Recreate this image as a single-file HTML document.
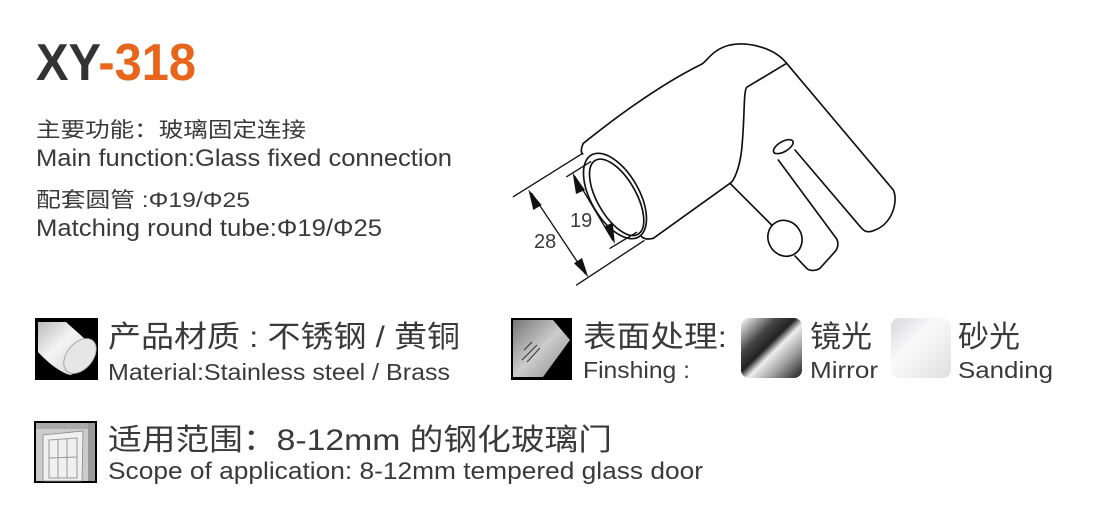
<!DOCTYPE html>
<html><head><meta charset="utf-8"><style>
html,body{margin:0;padding:0;background:#fff;}
svg{display:block;}
text{font-family:"Liberation Sans","Noto Sans CJK SC",sans-serif;fill:#3a3a3a;}
</style></head><body>
<svg width="1093" height="513" viewBox="0 0 1093 513" xmlns="http://www.w3.org/2000/svg">
<defs>
<linearGradient id="cyl" x1="0" y1="0" x2="1" y2="1"><stop offset="0" stop-color="#bbb"/><stop offset=".4" stop-color="#f4f4f4"/><stop offset="1" stop-color="#ccc"/></linearGradient>
<linearGradient id="mir" x1="0" y1="0" x2="1" y2="1"><stop offset="0" stop-color="#fff"/><stop offset=".3" stop-color="#444"/><stop offset=".45" stop-color="#222"/><stop offset=".55" stop-color="#eee"/><stop offset=".75" stop-color="#999"/><stop offset="1" stop-color="#1a1a1a"/></linearGradient>
<linearGradient id="sand" x1="0" y1="0" x2="1" y2="1"><stop offset="0" stop-color="#d8d8de"/><stop offset=".4" stop-color="#fafafa"/><stop offset="1" stop-color="#dedede"/></linearGradient>
<linearGradient id="glass" x1="0" y1="0" x2="1" y2="1"><stop offset="0" stop-color="#777"/><stop offset=".5" stop-color="#ccc"/><stop offset="1" stop-color="#888"/></linearGradient>
</defs>

<!-- Title -->
<text x="36" y="80" font-size="52" font-weight="bold" textLength="160" lengthAdjust="spacingAndGlyphs"><tspan fill="#333">XY</tspan><tspan fill="#e8661c" style="fill:#e8661c">-318</tspan></text>

<text x="36" y="137" font-size="21" textLength="270" lengthAdjust="spacingAndGlyphs">主要功能：玻璃固定连接</text>
<text x="36" y="166" font-size="24" textLength="416" lengthAdjust="spacingAndGlyphs">Main function:Glass fixed connection</text>
<text x="36" y="207" font-size="21" textLength="214" lengthAdjust="spacingAndGlyphs">配套圆管 :Φ19/Φ25</text>
<text x="36" y="236" font-size="24" textLength="346" lengthAdjust="spacingAndGlyphs">Matching round tube:Φ19/Φ25</text>

<!-- Drawing -->
<g transform="translate(500,30) scale(0.3333)" fill="none" stroke="#111" stroke-width="5" stroke-linejoin="round" stroke-linecap="round">
  <path d="M250,340 C300,300 450,180 600,105 C620,100 630,60 690,45 C740,35 820,50 860,100 L1180,480 C1195,510 1180,590 1110,605 C1095,606 1090,600 1085,595 L885,360"/>
  <path d="M860,100 L740,172 C730,185 735,260 725,360 C718,420 700,455 690,460 L460,625"/>
  <path d="M690,460 L815,585"/>
  <ellipse cx="855" cy="625" rx="50" ry="55" transform="rotate(-30 855 625)"/>
  <path d="M885,678 L920,715 C930,725 950,722 960,715 L1005,665 C1018,650 1015,630 1005,620 L835,390"/>
  <ellipse cx="850" cy="350" rx="33" ry="15" transform="rotate(-30 850 350)"/>
  <path d="M250,340 C240,360 245,370 248,372"/>
  <ellipse cx="345" cy="498" rx="72" ry="142" transform="rotate(-30 345 498)"/>
  <ellipse cx="350" cy="502" rx="58" ry="128" transform="rotate(-30 350 502)"/>
  <path d="M460,625 C440,630 430,625 425,620"/>
  <g stroke-width="4">
    <path d="M40,500 L248,370"/>
    <path d="M230,765 L432,632"/>
    <path d="M95,490 L255,730"/>
    <path d="M200,440 L272,395"/>
    <path d="M330,655 L410,607"/>
    <path d="M225,440 L338,630"/>
  </g>
  <g fill="#111" stroke="none">
    <polygon points="85,478 125,525 100,540"/>
    <polygon points="265,742 222,700 246,684"/>
    <polygon points="218,428 255,480 228,492"/>
    <polygon points="345,642 312,590 338,578"/>
  </g>
</g>
<text x="534" y="248" font-size="20">28</text>
<text x="570" y="227" font-size="20">19</text>

<!-- Material icon -->
<rect x="35" y="318" width="63" height="62" fill="#000"/>
<path d="M38,322 L66,322 L95,348 C92,360 82,372 70,375 C62,373 50,365 38,352 Z" fill="url(#cyl)"/>
<ellipse cx="80" cy="356" rx="13" ry="20" transform="rotate(40 80 356)" fill="#e6e6e6" stroke="#999" stroke-width="0.8"/>
<text x="108" y="347" font-size="30" textLength="352" lengthAdjust="spacingAndGlyphs">产品材质 : 不锈钢 / 黄铜</text>
<text x="108" y="380" font-size="23" textLength="342" lengthAdjust="spacingAndGlyphs">Material:Stainless steel / Brass</text>

<!-- Finishing icon -->
<rect x="511" y="318" width="61" height="62" fill="#000"/>
<path d="M513,320 L553,320 L570,340 L543,377 L513,377 Z" fill="url(#glass)"/>
<path d="M524,350 L532,342 M522,360 L537,345 M527,362 L540,348" stroke="#333" stroke-width="1"/>
<text x="583" y="347" font-size="30" textLength="144" lengthAdjust="spacingAndGlyphs">表面处理:</text>
<text x="583" y="378" font-size="23" textLength="107" lengthAdjust="spacingAndGlyphs">Finshing :</text>

<rect x="741" y="318" width="61" height="60" rx="8" fill="url(#mir)"/>
<text x="810" y="347" font-size="30" textLength="62" lengthAdjust="spacingAndGlyphs">镜光</text>
<text x="810" y="378" font-size="23" textLength="68" lengthAdjust="spacingAndGlyphs">Mirror</text>

<rect x="891" y="318" width="60" height="60" rx="8" fill="url(#sand)"/>
<text x="958" y="347" font-size="30" textLength="62" lengthAdjust="spacingAndGlyphs">砂光</text>
<text x="958" y="378" font-size="23" textLength="95" lengthAdjust="spacingAndGlyphs">Sanding</text>

<!-- Door icon -->
<rect x="34" y="421" width="63" height="62" fill="#000"/>
<rect x="36" y="423" width="59" height="58" fill="#ccc"/>
<rect x="36" y="423" width="59" height="6" fill="#aaa"/>
<rect x="88" y="423" width="7" height="58" fill="#999"/>
<polygon points="43,435 83,431 82,481 43,481" fill="#f0f0f0" stroke="#888" stroke-width="0.8"/>
<path d="M49,440 L77,438 L77,478 L49,478 Z M58,440 L58,478 M67,439 L67,478 M49,458 L77,457" fill="none" stroke="#999" stroke-width="1"/>
<text x="108" y="450" font-size="30" textLength="504" lengthAdjust="spacingAndGlyphs">适用范围：8-12mm 的钢化玻璃门</text>
<text x="108" y="479" font-size="24" textLength="595" lengthAdjust="spacingAndGlyphs">Scope of application: 8-12mm tempered glass door</text>
</svg>
</body></html>
